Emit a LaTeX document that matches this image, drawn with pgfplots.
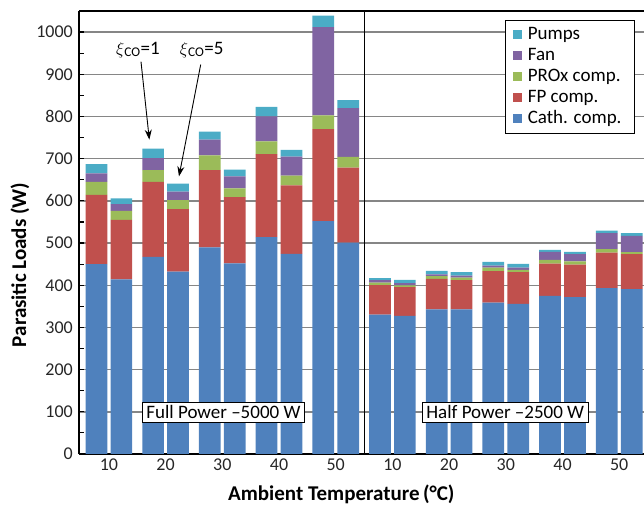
\documentclass[border=0pt]{standalone}
\usepackage{pgfplots}
\pgfplotsset{compat=1.18}
\usepackage{pgfplotstable}
\usepackage{fontspec}
\setmainfont{Carlito}
\usetikzlibrary{arrows.meta}
\definecolor{ccath}{HTML}{4F81BD}
\definecolor{cfp}{HTML}{C0504D}
\definecolor{cprox}{HTML}{9BBB59}
\definecolor{cfan}{HTML}{8064A2}
\definecolor{cpump}{HTML}{4BACC6}
\definecolor{cgrid}{RGB}{134,134,134}

\pgfplotstableread{
x     cath   fp    prox  fan    pumps
0.78  450    164   31    20     22
1.22  414    141   21.5  15.5   14
1.78  467    178   28    28.5   22.5
2.22  432.5  148   21.5  20     18.6
2.78  490    183   34.7  37.3   19
3.22  452    157   20.5  28.5   16
3.78  514    197   30    59     23
4.22  474.5  162   23.5  44.6   16
4.78  552    218   32.6  209.4  27
5.22  501    178   25    116    19
5.78  330.5  69.5  6     6      4.8
6.22  327.4  68    4.5   5      8
6.78  343    72    6.6   4.4    8
7.22  343    69    6     5      8
7.78  359    74.5  8.5   4.7    8.8
8.22  356    75    5.5   5.5    8.8
8.78  375    76.5  8.5   19     5
9.22  371.8  77    8     17     5
9.78  393    84    8.6   38     6
10.22 390.7  83    5     38     6.6
}\loads

\begin{document}
\begin{tikzpicture}
\begin{axis}[
  scale only axis, width=564.7pt, height=443pt,
  xmin=0.478, xmax=10.437, ymin=0, ymax=1050,
  axis x line*=box, axis y line*=left,
  axis line style={black, line width=1.8pt},
  ybar stacked, bar width=0.383,
  xtick={1,...,10},
  xticklabels={10,20,30,40,50,10,20,30,40,50},
  ytick={0,100,...,1000},
  minor ytick={50,150,...,1050},
  ymajorgrids,
  major grid style={cgrid, line width=1.4pt},
  xtick style={draw=none},
  ytick style={black, line width=1.2pt},
  major tick length=5pt, minor tick length=5pt,
  tick align=inside,
  /pgf/number format/assume math mode=true,
  /pgf/number format/1000 sep={},
  tick label style={font=\fontsize{18}{18}\selectfont, text=black!85},
  yticklabel style={xshift=-3pt},
  xticklabel style={yshift=-1pt},
  xlabel={Ambient Temperature\,(°C)},
  ylabel={Parasitic Loads (W)},
  xlabel style={font=\fontsize{21}{21}\bfseries, at={(rel axis cs:0.464,-0.0903)}, anchor=center},
  ylabel style={font=\fontsize{21}{21}\bfseries, at={(rel axis cs:-0.105,0.427)}, anchor=center, rotate=0},
  legend style={at={(rel axis cs:0.984,0.98)}, anchor=north east, draw=black, line width=0.8pt,
    font=\fontsize{19}{19}\selectfont, row sep=0pt, inner xsep=7pt, inner ysep=4pt,
    nodes={inner ysep=1.5pt, inner xsep=6pt, text height=14pt, text depth=4pt}},
  legend cell align=left,
  reverse legend,
  legend image code/.code={\fill[#1] (0pt,-4.5pt) rectangle (9pt,4.5pt);},
]
\addplot[fill=ccath, draw=none] table[x=x, y=cath] {\loads};
\addlegendentry{Cath. comp.}
\addplot[fill=cfp, draw=none] table[x=x, y=fp] {\loads};
\addlegendentry{FP comp.}
\addplot[fill=cprox, draw=none] table[x=x, y=prox] {\loads};
\addlegendentry{PROx comp.}
\addplot[fill=cfan, draw=none] table[x=x, y=fan] {\loads};
\addlegendentry{Fan}
\addplot[fill=cpump, draw=none] table[x=x, y=pumps] {\loads};
\addlegendentry{Pumps}

\coordinate (sepA) at (axis cs:5.5,0);
\coordinate (sepB) at (axis cs:5.5,1050);
\coordinate (boxF) at (axis cs:3.02,98.5);
\coordinate (boxH) at (axis cs:7.99,98.5);
\coordinate (x1) at (axis cs:1.513,958);
\coordinate (x5) at (axis cs:2.637,958);
\coordinate (a1s) at (axis cs:1.566,930);
\coordinate (a1e) at (axis cs:1.713,745);
\coordinate (a5s) at (axis cs:2.619,923);
\coordinate (a5e) at (axis cs:2.236,658);
\end{axis}
\draw[black, line width=0.9pt] (sepA) -- (sepB);
\node[draw=black, fill=white, line width=0.8pt, font=\fontsize{19}{19}\selectfont, inner xsep=4pt, inner ysep=3pt]
  at (boxF) {Full Power –5000 W};
\node[draw=black, fill=white, line width=0.8pt, font=\fontsize{19}{19}\selectfont, inner xsep=4pt, inner ysep=3pt]
  at (boxH) {Half Power –2500 W};
\node[font=\fontsize{19}{19}\selectfont] at (x1) {$\xi$\textsubscript{CO}=1};
\node[font=\fontsize{19}{19}\selectfont] at (x5) {$\xi$\textsubscript{CO}=5};
\draw[-{Stealth[length=10pt,width=7pt]}, line width=0.9pt] (a1s) -- (a1e);
\draw[-{Stealth[length=10pt,width=7pt]}, line width=0.9pt] (a5s) -- (a5e);
\pgfresetboundingbox
\path (current axis.south west) ++(-79.3pt,-54pt) coordinate (bbA);
\path (current axis.north east) ++(0pt,11pt) coordinate (bbB);
\useasboundingbox (bbA) rectangle (bbB);
\end{tikzpicture}
\end{document}
